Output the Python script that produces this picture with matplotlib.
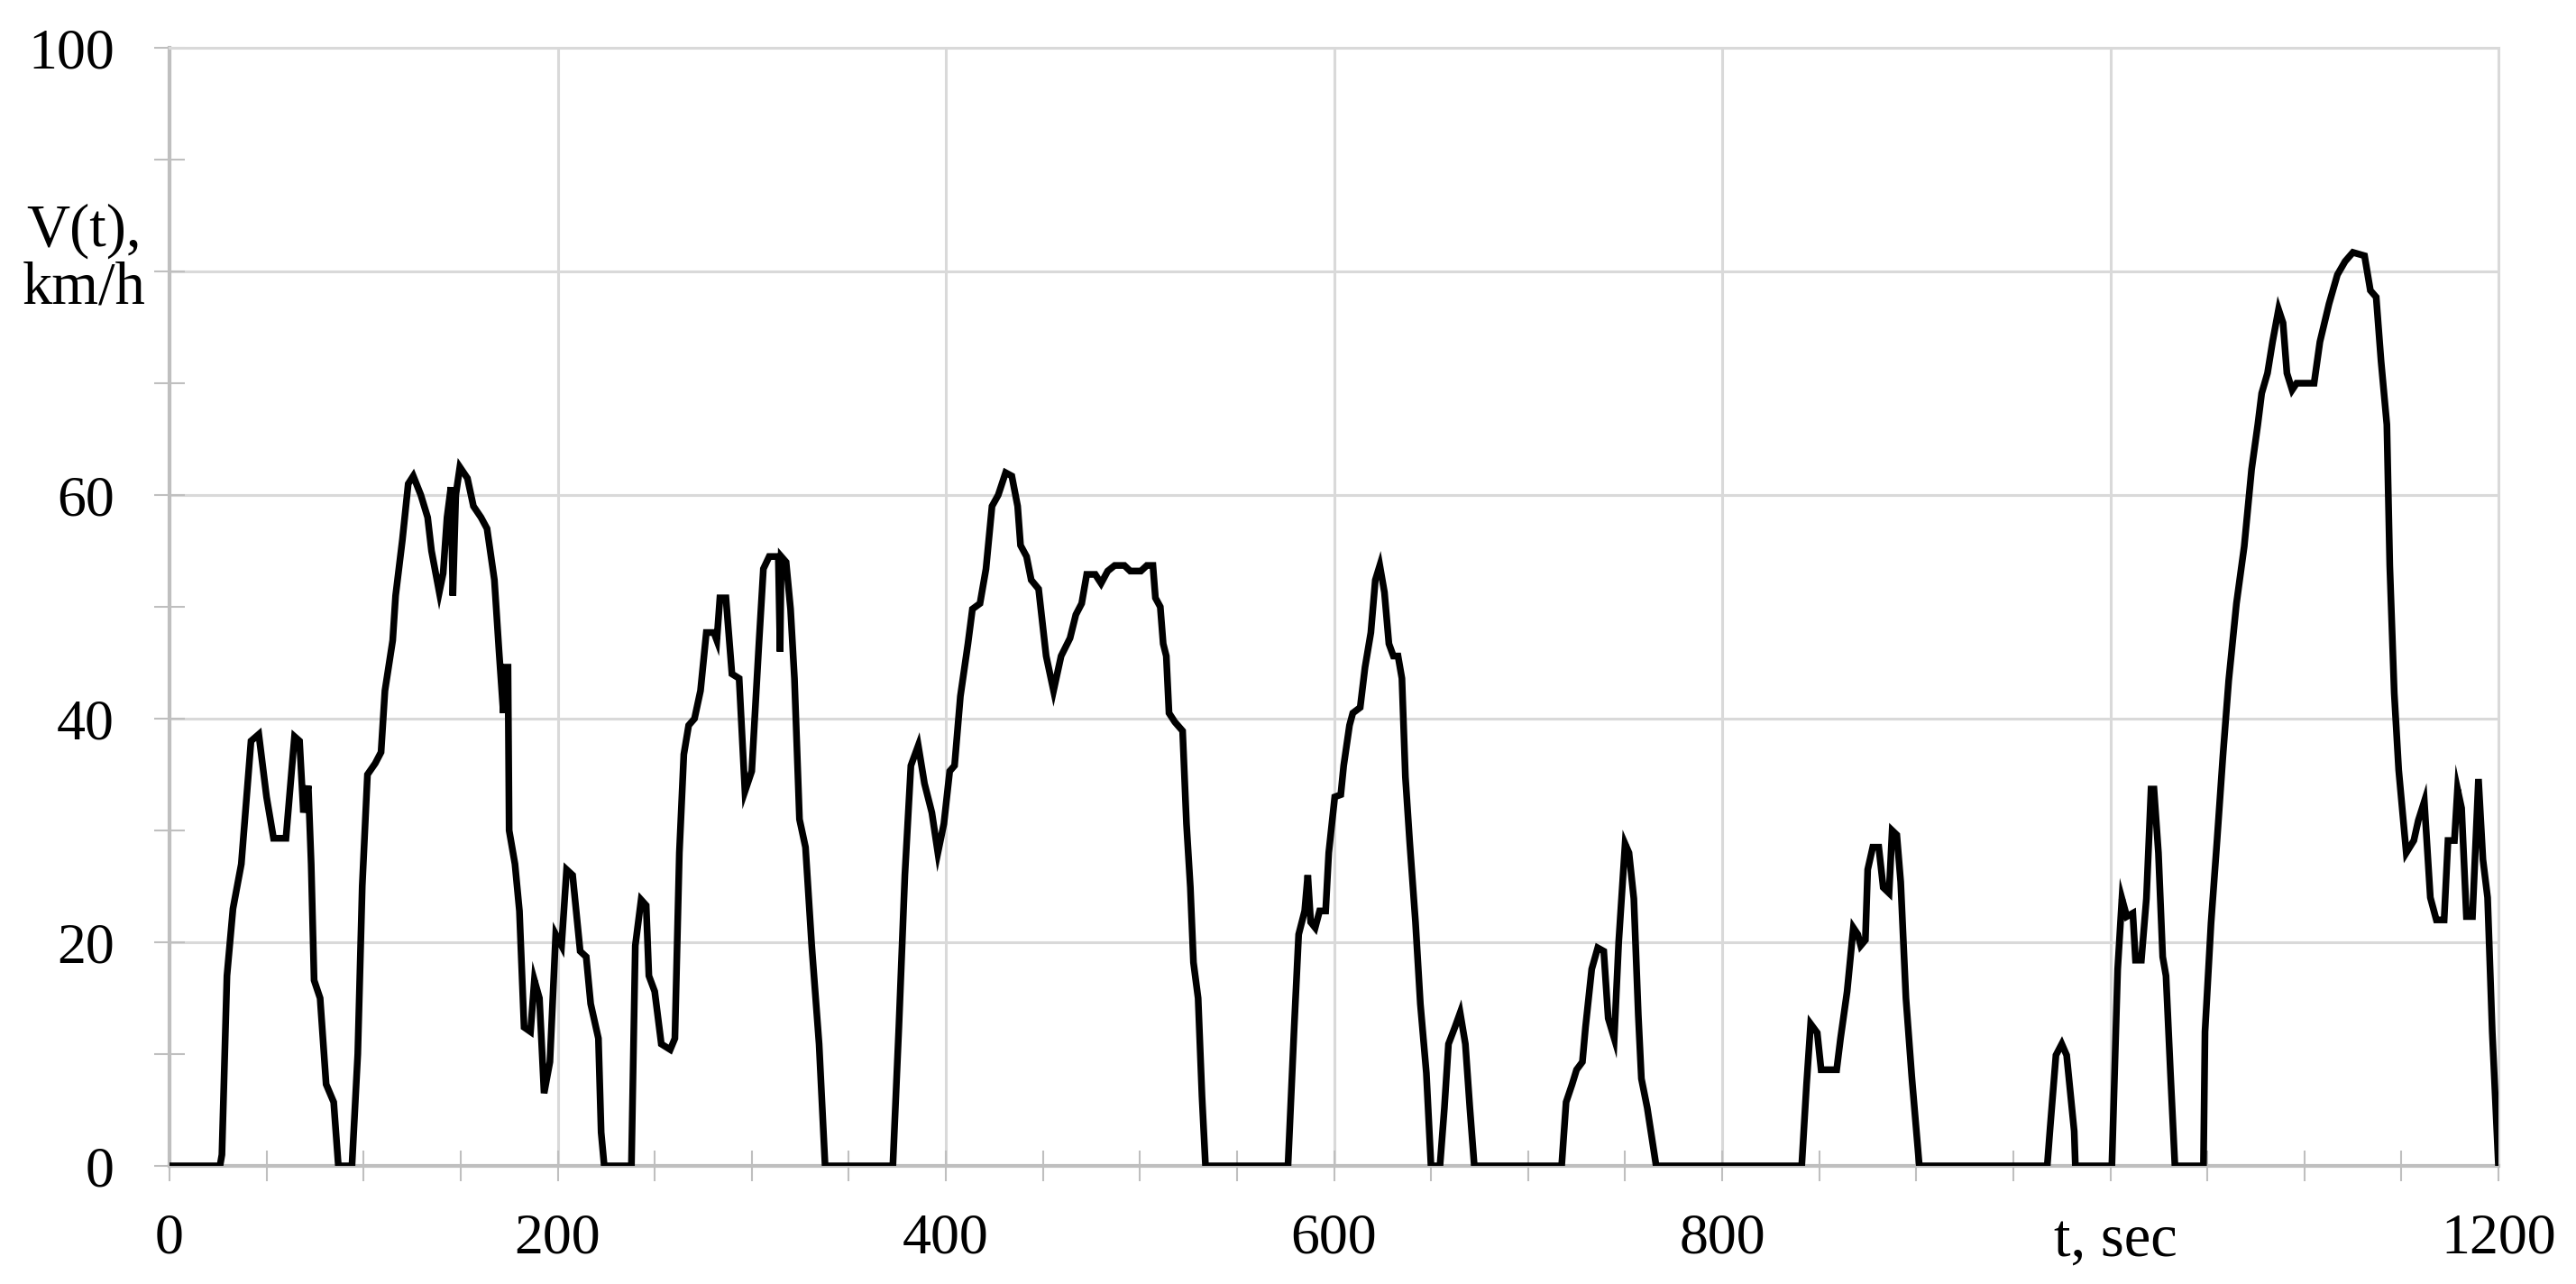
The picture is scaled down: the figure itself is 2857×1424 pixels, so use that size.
import matplotlib
matplotlib.use("Agg")
import matplotlib.pyplot as plt
from matplotlib.ticker import MultipleLocator

# Drive cycle speed profile
t_sec = [0, 26, 27, 29.6, 32.7, 37, 42, 46, 50, 53.6, 60, 64.4, 67, 69, 71.5, 73, 74.5, 77.6,
         80.7, 84.6, 87, 94, 97, 99.3, 102, 106, 109, 111, 115, 116.5, 120, 123, 125.6, 129.5,
         133, 135, 139, 141, 143, 145, 146, 147.5, 149.6, 153.5, 156.6, 160.5, 163.6, 167.4,
         169.8, 172, 173, 174.4, 175, 178, 180.3, 182.7, 186, 188, 190.6, 193, 196, 199, 202,
         204.6, 207.7, 211.6, 214.7, 217, 221, 222.4, 224, 238, 240, 243, 245.6, 247, 250,
         253.4, 258, 260.4, 262.7, 265, 267.5, 270.5, 273.6, 276.6, 280.5, 282, 283.6, 286.7,
         289.8, 293.5, 296.5, 300, 303.7, 306, 309, 313.7, 314.6, 315.2, 317.7, 320, 322,
         324.6, 327.7, 330.9, 334.7, 337.8, 372.7, 375.8, 378.9, 382, 385.8, 389, 392.8,
         395.9, 399, 402, 404.5, 407.5, 411.4, 413.7, 417.6, 420.7, 423.8, 427, 430.8, 434,
         437, 438.5, 441.6, 444, 447.8, 451.7, 455.5, 459.4, 464, 467, 470, 472.6, 477, 480,
         483.4, 487, 492, 495, 500.5, 503.6, 506.7, 508, 510.5, 512, 513.6, 515, 518, 522,
         524, 526, 527.6, 530, 532, 533.8, 576.3, 579.5, 581.8, 584.9, 586.5, 588, 590.3,
         592.6, 595.7, 597.3, 600.4, 603.5, 605, 608, 609.7, 613.5, 616, 619, 621.3, 623.6,
         626, 628.3, 630.6, 633, 635, 636.8, 639, 642, 644.5, 647.6, 650, 654.6, 656.9, 659,
         662.3, 665, 667.7, 670, 672.3, 717.3, 719.6, 722.7, 725, 728, 729.6, 732.8, 735.9,
         739, 741.3, 744.4, 746.7, 750, 752, 754.5, 756.8, 758.4, 761.4, 766, 841, 843.5,
         845.6, 849, 851, 859, 861, 864.4, 867.6, 869.9, 871.4, 873.8, 875, 877.6, 880.7,
         883, 886, 887.6, 890, 892, 894.7, 897.7, 901.6, 967.5, 969, 972, 975, 977.5, 981.4,
         982, 1000.8, 1003.8, 1006, 1008.5, 1011.6, 1013, 1016, 1018.6, 1021, 1022.5,
         1024.8, 1027, 1028.7, 1031, 1033.3, 1048, 1048.8, 1051.9, 1055, 1058, 1061, 1065,
         1069, 1072.8, 1076, 1078, 1081, 1083.6, 1086.7, 1089, 1091, 1093.7, 1096, 1105,
         1108, 1112.7, 1117, 1121, 1125, 1131, 1134, 1137, 1139.5, 1142.5, 1144, 1146.3,
         1148.6, 1152.5, 1156.4, 1158.7, 1161.8, 1164.9, 1168, 1172, 1174, 1177.3, 1178.9,
         1181, 1183.5, 1186.6, 1189.7, 1192, 1194.4, 1196.8, 1200]
speed_kmh = [0, 0, 1, 17, 23, 27, 38, 38.6, 33, 29.3, 29.3, 38.4, 38, 31.6, 34, 27, 16.6, 15,
             7.3, 5.7, 0, 0, 10, 25, 35, 36, 37, 42.5, 47, 51, 56, 61, 61.7, 60,
             58, 55, 51.3, 53, 58, 60.7, 51, 60, 62.5, 61.5, 59, 58, 57, 52.4,
             46, 40.5, 44.6, 44.6, 30, 27, 22.8, 12.4, 12, 16.6, 15, 6.5, 9.3, 20.7, 19.7,
             26.5, 26, 19.2, 18.7, 14.5, 11.4, 3, 0, 0, 19.7, 23.8, 23.3, 17, 15.6,
             10.9, 10.4, 11.4, 28, 36.8, 39.4, 40, 42.5, 47.7, 47.7, 47, 50.8, 50.8,
             44, 43.6, 33.5, 35.3, 46.7, 53.4, 54.5, 54.5, 46, 54.5, 54, 49.8, 43.6,
             31, 28.5, 19.7, 10.9, 0, 0, 12.4, 26, 35.8, 37.6, 34.2, 31.6,
             28, 30.6, 35.3, 35.8, 42, 46.7, 49.8, 50.3, 53.4, 59, 60, 62, 61.7,
             59, 55.5, 54.5, 52.4, 51.6, 45.6, 42.5, 45.6, 47.2, 49.3, 50.3, 52.9, 52.9, 52.1,
             53.2, 53.7, 53.7, 53.2, 53.2, 53.7, 53.7, 50.8, 50, 46.7, 45.6, 40.5, 39.7, 38.9,
             30.6, 24.9, 18.2, 15, 6.2, 0, 0, 12.4, 20.7, 22.8, 26, 21.8, 21.3,
             22.8, 22.8, 28, 33, 33.2, 35.8, 39.4, 40.5, 41, 44.6, 47.7, 52.4, 53.7,
             51.3, 46.7, 45.6, 45.6, 43.6, 34.8, 29, 21.8, 14.5, 8.3, 0, 0, 5.2, 10.9,
             12.4, 13.7, 10.9, 5.2, 0, 0, 5.7, 7.3, 8.6, 9.3, 12.4, 17.6, 19.5,
             19.2, 13.2, 11.4, 20, 28.8, 28, 23.9, 13.5, 7.8, 5.2, 0, 0, 7.3,
             12.7, 11.9, 8.6, 8.6, 11.4, 15.6, 21.3, 20.7, 19.7, 20.2, 26.5, 28.5, 28.5,
             24.9, 24.4, 30, 29.6, 25.4, 15, 8, 0, 0, 3.4, 9.9, 10.9, 9.9, 3.1,
             0, 0, 17.6, 23.9, 22.3, 22.6, 18.4, 18.4, 23.9, 33.7, 33.7,
             28, 18.7, 17, 8.3, 0, 0, 12, 21.7, 29.1, 36.6, 43.4, 50.3,
             55.4, 62.3, 66.3, 69.1, 70.9, 73.7, 76.6, 75.4, 70.9, 69.4, 70, 70,
             73.7, 77.1, 79.7, 80.9, 81.7, 81.4, 78.3, 77.7, 72, 66.3, 53.7, 42.3,
             35.4, 28, 29.1, 30.9, 32.6, 24, 22, 22, 29.1, 29.1, 33.7,
             32, 22.3, 22.3, 34.6, 27.4, 24, 12, 0]

x_ticks = [0, 200, 400, 600, 800, 1000, 1200]
x_tick_labels = ['0', '200', '400', '600', '800', '', '1200']
y_ticks = [0, 20, 40, 60, 80, 100]
y_tick_labels = ['0', '20', '40', '60', '', '100']

plt.rcParams['font.family'] = ['Liberation Serif', 'DejaVu Serif']

fig = plt.figure(figsize=(28.57, 14.24), dpi=100)
ax = fig.add_axes([188 / 2857, 1 - 1293 / 1424, (2771 - 188) / 2857, (1293 - 53) / 1424])

grid_col = '#d9d9d9'
axis_col = '#bfbfbf'

ax.plot(t_sec, speed_kmh, color='black', linewidth=5.4, solid_joinstyle='miter', zorder=3)

ax.set_xlim(0, 1200)
ax.set_ylim(0, 100)
ax.set_xticks(x_ticks)
ax.set_xticklabels(x_tick_labels)
ax.set_yticks(y_ticks)
ax.set_yticklabels(y_tick_labels)
ax.xaxis.set_minor_locator(MultipleLocator(50))
ax.yaxis.set_minor_locator(MultipleLocator(10))
ax.grid(True, which='major', color=grid_col, linewidth=2.2, zorder=0)
ax.set_axisbelow(True)

ax.tick_params(axis='both', which='both', direction='inout', length=24,
               width=1.5, color=axis_col, labelsize=46, labelcolor='black')
ax.tick_params(axis='x', which='both', pad=26)
ax.tick_params(axis='y', which='both', pad=32)

for side in ['left', 'bottom']:
    ax.spines[side].set_color(axis_col)
    ax.spines[side].set_linewidth(3)
for side in ['top', 'right']:
    ax.spines[side].set_color(grid_col)
    ax.spines[side].set_linewidth(2.2)

fig.text(93 / 2857, 1 - 288 / 1424, 'V(t),\nkm/h', fontsize=48, ha='center', va='center',
         multialignment='center', linespacing=1.05)
fig.text(2346 / 2857, 1 - 1393 / 1424, 't, sec', fontsize=48, ha='center', va='baseline')

fig.savefig('out.png', dpi=100, facecolor='white')
